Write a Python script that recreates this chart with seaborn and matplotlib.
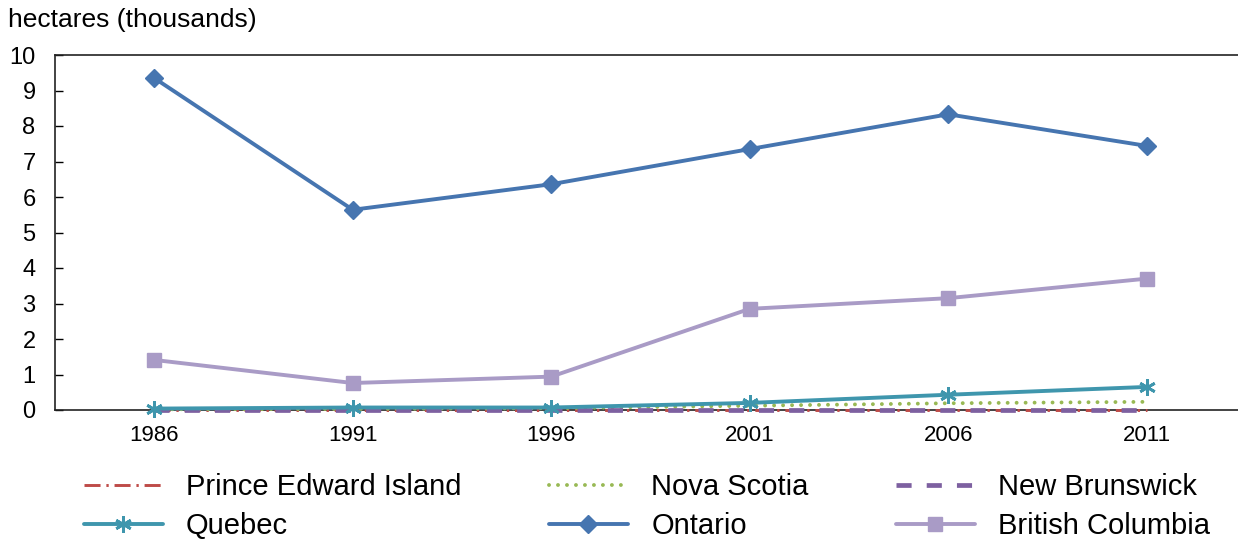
import matplotlib
matplotlib.use("Agg")
import matplotlib.pyplot as plt
import seaborn as sns

# данные (тыс. гектаров)
years = [1986, 1991, 1996, 2001, 2006, 2011]
pei = [0.01, 0.01, 0.01, 0.01, 0.01, 0.01]
nova_scotia = [0.02, 0.03, 0.05, 0.12, 0.19, 0.23]
new_brunswick = [0.01, 0.01, 0.01, 0.01, 0.01, 0.01]
quebec = [0.04, 0.07, 0.07, 0.20, 0.43, 0.65]
ontario = [9.35, 5.64, 6.36, 7.35, 8.33, 7.44]
british_columbia = [1.41, 0.76, 0.94, 2.85, 3.15, 3.70]
y_ticks = list(range(0, 11))

sns.set_style("white")
plt.rcParams['font.family'] = ['Liberation Sans', 'DejaVu Sans']
plt.rcParams['text.color'] = 'black'
plt.rcParams['xtick.color'] = 'black'
plt.rcParams['ytick.color'] = 'black'

fig = plt.figure(figsize=(12.38, 5.39), dpi=100)
ax = fig.add_axes([55 / 1238, 1 - 410 / 539, 1 - 55 / 1238, (410 - 55) / 539])

series = [
    ("Prince Edward Island", pei, dict(color="#BE4B48", linestyle=(0, (5.5, 2, 0.8, 2)), linewidth=2.1)),
    ("Nova Scotia", nova_scotia, dict(color="#98B954", linestyle=(0, (0.01, 2.3)), linewidth=2.8,
                                      dash_capstyle="round")),
    ("New Brunswick", new_brunswick, dict(color="#7D60A0", linestyle=(0, (3.2, 3.2)), linewidth=3.4)),
    ("Quebec", quebec, dict(color="#3F96AD", linewidth=2.8, marker=(6, 2, 0), markersize=12,
                            markeredgewidth=2)),
    ("Ontario", ontario, dict(color="#4675B0", linewidth=2.8, marker="D", markersize=9,
                              markeredgewidth=1)),
    ("British Columbia", british_columbia, dict(color="#A99BC6", linewidth=2.8, marker="s", markersize=10.5,
                                                markeredgewidth=1)),
]

for name, vals, kw in series:
    sns.lineplot(x=years, y=vals, ax=ax, label=name, markeredgecolor=kw["color"],
                 zorder=3, clip_on=False, **kw)

h, l = ax.get_legend_handles_labels()
handles = dict(zip(l, h))
ax.get_legend().remove()

ax.set_xlim(1983.5, 2013.3)
ax.set_ylim(0, 10)
ax.set_yticks(y_ticks)
ax.set_xticks(years)
ax.set_xlabel("")
ax.set_ylabel("")
ax.tick_params(axis="y", direction="in", length=6, width=1, labelsize=17, pad=14, left=True)
ax.tick_params(axis="x", length=0, labelsize=16, pad=11)

for side in ["left", "bottom", "top"]:
    ax.spines[side].set_color("#222222")
    ax.spines[side].set_linewidth(1.2)
ax.spines["right"].set_visible(False)

fig.text(8 / 1238, 1 - 20 / 539, "hectares (thousands)", fontsize=19, va="center", ha="left")

# порядок для заполнения по столбцам
order = ["Prince Edward Island", "Quebec", "Nova Scotia", "Ontario", "New Brunswick", "British Columbia"]
fig.legend([handles[n] for n in order], order, ncol=3, loc="upper left",
           bbox_to_anchor=(84 / 1238, 1 - 473 / 539), frameon=False, fontsize=21,
           handlelength=2.7, handletextpad=0.8, columnspacing=3.0, labelspacing=0.38,
           borderpad=0, borderaxespad=0)

fig.savefig("out.png", dpi=100)
